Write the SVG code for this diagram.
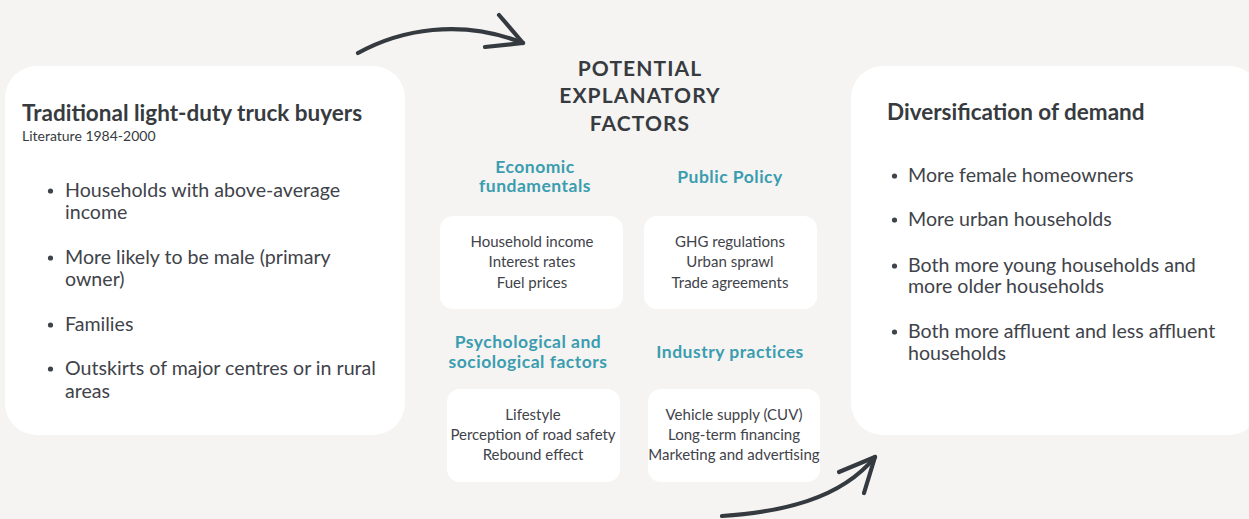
<svg xmlns="http://www.w3.org/2000/svg" width="1249" height="519" viewBox="0 0 1249 519">
  <style>
    .card { fill: #ffffff; }
    .title { font-family: Lato, "Open Sans", sans-serif; font-weight: 700; font-size: 22.5px; fill: #373b40; }
    .sub { font-family: Lato, "Open Sans", sans-serif; font-size: 14px; fill: #373b40; }
    .bullet { font-family: Lato, "Open Sans", sans-serif; font-size: 19.6px; fill: #3f434a; }
    .dot { fill: #3f434a; }
    .main { font-family: Lato, "Open Sans", sans-serif; font-weight: 700; font-size: 21px; fill: #373b40; text-anchor: middle; letter-spacing: 1.1px; }
    .head { font-family: Lato, "Open Sans", sans-serif; font-weight: 700; font-size: 17.5px; fill: #3a9db0; text-anchor: middle; letter-spacing: 0.5px; }
    .item { font-family: Lato, "Open Sans", sans-serif; font-size: 15px; fill: #3f434a; text-anchor: middle; }
    .arrow { fill: none; stroke: #353a40; stroke-width: 4.2; stroke-linecap: round; stroke-linejoin: round; }
  </style>
  <rect width="1249" height="519" fill="#f5f4f2"/>

  <g id="connectors">
    <path class="arrow" d="M358 53 C 400 30, 460 18, 523 43"/>
    <path class="arrow" d="M499 15 L 523 43 L 485 47"/>
    <path class="arrow" d="M722 516 C 780 512, 840 500, 875 457"/>
    <path class="arrow" d="M839 472 L 875 457 L 864 493"/>
  </g>

  <g id="traditional-buyers">
    <rect class="card" x="5" y="66" width="400" height="369" rx="32"/>
    <text class="title" x="22" y="121">Traditional light-duty truck buyers</text>
    <text class="sub" x="22" y="141">Literature 1984-2000</text>
    <circle class="dot" cx="50.5" cy="191" r="2.6"/>
    <text class="bullet" x="65" y="197">Households with above-average</text>
    <text class="bullet" x="65" y="219">income</text>
    <circle class="dot" cx="50.5" cy="258" r="2.6"/>
    <text class="bullet" x="65" y="264">More likely to be male (primary</text>
    <text class="bullet" x="65" y="286">owner)</text>
    <circle class="dot" cx="50.5" cy="325" r="2.6"/>
    <text class="bullet" x="65" y="331">Families</text>
    <circle class="dot" cx="50.5" cy="369" r="2.6"/>
    <text class="bullet" x="65" y="375">Outskirts of major centres or in rural</text>
    <text class="bullet" x="65" y="398">areas</text>
  </g>

  <g id="factors-title">
    <text class="main" x="640" y="76">POTENTIAL</text>
    <text class="main" x="640" y="103">EXPLANATORY</text>
    <text class="main" x="640" y="131">FACTORS</text>
  </g>

  <g id="economic-fundamentals">
    <text class="head" x="535" y="173">Economic</text>
    <text class="head" x="535" y="192">fundamentals</text>
    <rect class="card" x="440" y="216" width="183" height="93" rx="13"/>
    <text class="item" x="532" y="247">Household income</text>
    <text class="item" x="532" y="267">Interest rates</text>
    <text class="item" x="532" y="288">Fuel prices</text>
  </g>

  <g id="public-policy">
    <text class="head" x="730" y="183">Public Policy</text>
    <rect class="card" x="644" y="216" width="173" height="93" rx="13"/>
    <text class="item" x="730" y="247">GHG regulations</text>
    <text class="item" x="730" y="267">Urban sprawl</text>
    <text class="item" x="730" y="288">Trade agreements</text>
  </g>

  <g id="psychological-factors">
    <text class="head" x="528" y="348">Psychological and</text>
    <text class="head" x="528" y="368">sociological factors</text>
    <rect class="card" x="447" y="389" width="173" height="93" rx="13"/>
    <text class="item" x="533" y="420">Lifestyle</text>
    <text class="item" x="533" y="440">Perception of road safety</text>
    <text class="item" x="533" y="460">Rebound effect</text>
  </g>

  <g id="industry-practices">
    <text class="head" x="730" y="358">Industry practices</text>
    <rect class="card" x="648" y="389" width="172" height="93" rx="13"/>
    <text class="item" x="734" y="420">Vehicle supply (CUV)</text>
    <text class="item" x="734" y="440">Long-term financing</text>
    <text class="item" x="734" y="460">Marketing and advertising</text>
  </g>

  <g id="demand-diversification">
    <rect class="card" x="851" y="66" width="410" height="369" rx="32"/>
    <text class="title" x="887" y="120">Diversification of demand</text>
    <circle class="dot" cx="894.5" cy="176" r="2.6"/>
    <text class="bullet" x="908" y="182">More female homeowners</text>
    <circle class="dot" cx="894.5" cy="220" r="2.6"/>
    <text class="bullet" x="908" y="226">More urban households</text>
    <circle class="dot" cx="894.5" cy="266" r="2.6"/>
    <text class="bullet" x="908" y="272">Both more young households and</text>
    <text class="bullet" x="908" y="293">more older households</text>
    <circle class="dot" cx="894.5" cy="332" r="2.6"/>
    <text class="bullet" x="908" y="338">Both more affluent and less affluent</text>
    <text class="bullet" x="908" y="360">households</text>
  </g>
</svg>
